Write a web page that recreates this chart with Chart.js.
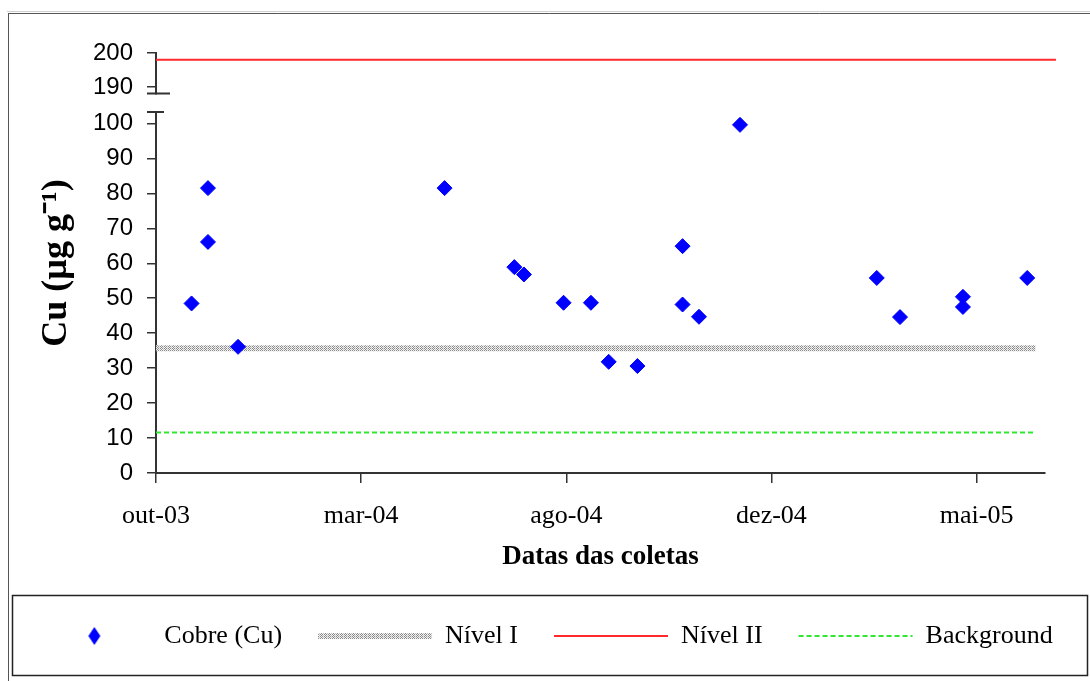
<!DOCTYPE html>
<html>
<head>
<meta charset="utf-8">
<script src="https://cdn.jsdelivr.net/npm/chart.js@4.4.1/dist/chart.umd.min.js"></script>
<style>
  html, body { margin: 0; padding: 0; background: #ffffff; }
  #wrap { width: 1090px; height: 681px; }
</style>
</head>
<body>
<div id="wrap"><canvas id="myChart" width="1090" height="681"></canvas></div>
<script>
'use strict';

// <------------------ DATA ------------------>

let coletaDates = [
  '2003-11-02', '2003-11-14', '2003-11-14', '2003-12-06', '2004-05-05',
  '2004-06-25', '2004-07-02', '2004-07-31', '2004-08-20', '2004-09-02',
  '2004-09-23', '2004-10-26', '2004-10-26', '2004-11-07', '2004-12-07',
  '2005-03-17', '2005-04-03', '2005-05-19', '2005-05-19', '2005-07-05'
];
let cobreValues = [
  48.5, 81.5, 66.1, 36.1, 81.5,
  58.9, 56.8, 48.7, 48.7, 31.8,
  30.6, 64.9, 48.2, 44.7, 99.6,
  55.8, 44.6, 50.4, 47.5, 55.8
];

let levelLabels = ['Nível I', 'Nível II', 'Background'];
let levelValues = [35.7, 198, 11.6];
let levelStart = '2003-10-07';
let levelEnds = ['2005-07-11', '2005-07-26', '2005-07-11'];

let xTickLabels = ['out-03', 'mar-04', 'ago-04', 'dez-04', 'mai-05'];
let xAxisStart = '2003-10-07';
let xTickStep = 150;
let xSpan = 650;

let yLowTicks = [0, 10, 20, 30, 40, 50, 60, 70, 80, 90, 100];
let yTopTicks = [190, 200];


// <------------------ HELPERS ------------------>

function toDay(s) {
  let p = s.split('-').map(Number);
  return Date.UTC(p[0], p[1] - 1, p[2]) / 86400000;
}

let xMin = toDay(xAxisStart);

// halftone pattern for Nivel I
function makeDots() {
  let c = document.createElement('canvas');
  c.width = 4;
  c.height = 2;
  let g = c.getContext('2d');
  g.fillStyle = '#f2f2f2';
  g.fillRect(0, 0, 4, 2);
  g.fillStyle = '#8a8a8a';
  g.fillRect(0, 0, 1, 1);
  g.fillRect(2, 0, 1, 1);
  g.fillRect(1, 1, 1, 1);
  g.fillStyle = '#c4c4c4';
  g.fillRect(3, 1, 1, 1);
  return c;
}

// diamond used only in the legend
function makeDiamond() {
  let c = document.createElement('canvas');
  c.width = 14;
  c.height = 18;
  let g = c.getContext('2d');
  g.fillStyle = '#0000ff';
  g.beginPath();
  g.moveTo(7, 0);
  g.lineTo(13, 9);
  g.lineTo(7, 18);
  g.lineTo(1, 9);
  g.closePath();
  g.fill();
  return c;
}

let ctx = document.getElementById('myChart').getContext('2d');
let dots = ctx.createPattern(makeDots(), 'repeat');
let legendDiamond = makeDiamond();

let cobrePoints = coletaDates.map((d, i) => ({ x: toDay(d), y: cobreValues[i] }));

function levelLine(i) {
  return [
    { x: toDay(levelStart), y: levelValues[i] },
    { x: toDay(levelEnds[i]), y: levelValues[i] }
  ];
}


// <------------------ PLUGINS ------------------>

let framePlugin = {
  id: 'frames',
  beforeDraw(chart) {
    let c = chart.ctx;
    c.save();
    c.fillStyle = '#ffffff';
    c.fillRect(0, 0, chart.width, chart.height);
    // outer frame (top + left)
    c.strokeStyle = '#cfcfcf';
    c.lineWidth = 1;
    c.beginPath();
    c.moveTo(7, 11.5);
    c.lineTo(chart.width, 11.5);
    c.stroke();
    c.strokeStyle = '#555';
    c.beginPath();
    c.moveTo(8.5, 13.5);
    c.lineTo(chart.width, 13.5);
    c.moveTo(8.5, 13);
    c.lineTo(8.5, chart.height);
    c.stroke();
    // legend box
    c.strokeStyle = '#222';
    c.lineWidth = 1.5;
    c.strokeRect(12.5, 595.5, 1075, 80);
    c.restore();
  },
  afterDraw(chart) {
    // axis break marks
    let c = chart.ctx;
    let low = chart.scales.y;
    let top = chart.scales.yTop;
    c.save();
    c.strokeStyle = '#333';
    c.lineWidth = 2;
    c.beginPath();
    c.moveTo(low.right - 9, low.top);
    c.lineTo(low.right + 8, low.top);
    c.moveTo(top.right - 9, top.bottom);
    c.lineTo(top.right + 14, top.bottom);
    c.stroke();
    c.restore();
  }
};


// <------------------ CHART ------------------>

Chart.defaults.font.family = "'Liberation Serif', 'Times New Roman', serif";
Chart.defaults.color = '#000';

let axisGrid = {
  display: true,
  drawOnChartArea: false,
  drawTicks: true,
  color: '#333',
  lineWidth: 1.5
};

let yTickFont = { size: 24, family: "'Liberation Sans', Arial, sans-serif" };

let myChartObj = {
  data: {
    datasets: [
      {
        type: 'scatter',
        label: 'Cobre (Cu)',
        data: cobrePoints,
        xAxisID: 'x',
        yAxisID: 'y',
        pointStyle: 'rectRot',
        pointRadius: 7.5,
        pointHoverRadius: 7.5,
        backgroundColor: '#0000ff',
        borderColor: '#0000ff',
        borderWidth: 1
      },
      {
        type: 'line',
        label: levelLabels[0],
        data: levelLine(0),
        xAxisID: 'x',
        yAxisID: 'y',
        borderColor: dots,
        backgroundColor: dots,
        borderWidth: 6,
        pointRadius: 0,
        pointStyle: 'line'
      },
      {
        type: 'line',
        label: levelLabels[1],
        data: levelLine(1),
        xAxisID: 'x',
        yAxisID: 'yTop',
        borderColor: '#ff2a2a',
        backgroundColor: '#ff2a2a',
        borderWidth: 2,
        pointRadius: 0,
        pointStyle: 'line',
        clip: false
      },
      {
        type: 'line',
        label: levelLabels[2],
        data: levelLine(2),
        xAxisID: 'x',
        yAxisID: 'y',
        borderColor: '#2ee82e',
        backgroundColor: '#2ee82e',
        borderWidth: 2,
        borderDash: [5, 3],
        pointRadius: 0,
        pointStyle: 'line'
      }
    ]
  },
  options: {
    responsive: false,
    devicePixelRatio: 1,
    animation: false,
    layout: {
      padding: { top: 53, left: 0, right: 0, bottom: 22 }
    },
    plugins: {
      tooltip: { enabled: false },
      legend: {
        position: 'bottom',
        labels: {
          usePointStyle: true,
          pointStyleWidth: 114,
          padding: 36,
          color: '#000',
          font: { size: 26, family: "'Liberation Serif', serif" },
          generateLabels(chart) {
            let items = Chart.defaults.plugins.legend.labels.generateLabels(chart);
            items.forEach((item, i) => {
              let ds = chart.data.datasets[i];
              item.lineWidth = ds.borderWidth;
              item.strokeStyle = ds.borderColor;
              item.lineDash = ds.borderDash || [];
            });
            items[0].pointStyle = legendDiamond;
            return items;
          }
        }
      }
    },
    scales: {
      x: {
        type: 'linear',
        position: 'bottom',
        min: xMin,
        max: xMin + xSpan,
        afterBuildTicks(scale) {
          scale.ticks = xTickLabels.map((_, i) => ({ value: xMin + i * xTickStep }));
        },
        afterFit(scale) {
          scale.height = 114;
        },
        ticks: {
          autoSkip: false,
          maxRotation: 0,
          padding: 18,
          font: { size: 26 },
          callback: (value, index) => xTickLabels[index]
        },
        grid: Object.assign({}, axisGrid, { tickLength: 10 }),
        border: { display: true, color: '#333', width: 2 },
        title: {
          display: true,
          text: 'Datas das coletas',
          font: { size: 27, weight: 'bold' },
          padding: { top: 0, bottom: 14 }
        }
      },
      yTitle: {
        type: 'linear',
        position: 'left',
        weight: 10,
        min: 0,
        max: 1,
        afterFit(scale) {
          scale.width = 93;
        },
        ticks: { display: false },
        grid: { display: false },
        border: { display: false },
        title: {
          display: true,
          text: 'Cu (µg g⁻¹)',
          font: { size: 36, weight: 'bold' },
          padding: { top: 35, bottom: 0 }
        }
      },
      yTop: {
        type: 'linear',
        position: 'left',
        stack: 'cu',
        stackWeight: 40.6,
        weight: 3,
        min: 188.1,
        max: 200,
        afterBuildTicks(scale) {
          scale.ticks = yTopTicks.map(v => ({ value: v }));
        },
        afterFit(scale) {
          scale.width = 63;
        },
        ticks: { autoSkip: false, padding: 14, font: yTickFont },
        grid: Object.assign({}, axisGrid, { tickLength: 9 }),
        border: { display: true, color: '#333', width: 2 }
      },
      yGap: {
        type: 'linear',
        position: 'left',
        stack: 'cu',
        stackWeight: 18.4,
        weight: 2,
        min: 0,
        max: 1,
        afterFit(scale) {
          scale.width = 63;
        },
        ticks: { display: false },
        grid: { display: false },
        border: { display: false }
      },
      y: {
        type: 'linear',
        position: 'left',
        stack: 'cu',
        stackWeight: 361.6,
        weight: 1,
        min: 0,
        max: 103.3,
        afterBuildTicks(scale) {
          scale.ticks = yLowTicks.map(v => ({ value: v }));
        },
        afterFit(scale) {
          scale.width = 63;
        },
        ticks: { autoSkip: false, padding: 14, font: yTickFont },
        grid: Object.assign({}, axisGrid, { tickLength: 9 }),
        border: { display: true, color: '#333', width: 2 }
      },
      yR: {
        type: 'linear',
        position: 'right',
        min: 0,
        max: 1,
        afterFit(scale) {
          scale.width = 45;
        },
        ticks: { display: false },
        grid: { display: false },
        border: { display: false }
      }
    }
  },
  plugins: [framePlugin]
};

const myChart = new Chart(ctx, myChartObj);
</script>
</body>
</html>
